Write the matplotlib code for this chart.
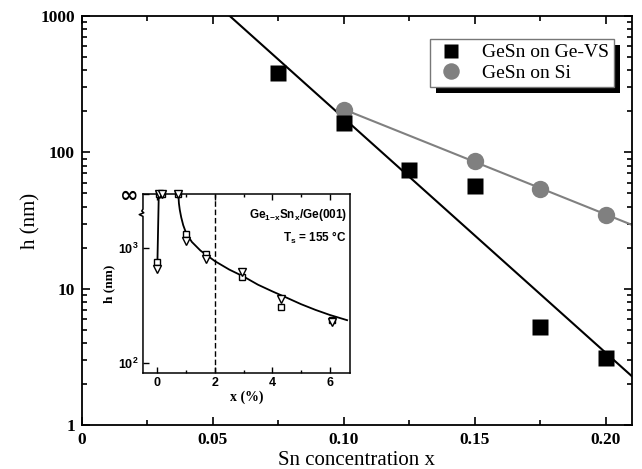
import matplotlib
matplotlib.use("Agg")
import matplotlib.pyplot as plt
import numpy as np
from matplotlib.patches import Rectangle
from matplotlib.transforms import IdentityTransform
from matplotlib.ticker import FixedLocator, LogLocator, NullFormatter, MultipleLocator, NullLocator

# main panel: critical thickness h vs Sn content x
x_vs = [0.075, 0.10, 0.125, 0.15, 0.175, 0.20]
h_vs = [380, 165, 74, 57, 5.2, 3.1]
x_si = [0.10, 0.15, 0.175, 0.20]
h_si = [205, 87, 54, 35]

# inset: Ge1-xSnx/Ge(001), Ts = 155 C ; "infinite" points sit on the top edge
INF = 2950
ins_x = [0.0, 0.06, 0.17, 0.73, 1.0, 1.68, 2.94, 4.29, 6.06]
ins_h_sq = [752, INF, INF, INF, 1316, 887, 556, 309, 237]
ins_h_tri = [653, INF, INF, INF, 1150, 797, 622, 358, 229]
branch_x = [0.0, 0.05]
branch_h = [700, INF]
curve_x = [0.73, 0.75, 0.78, 0.83, 0.9, 1.0, 1.2, 1.5, 2.0, 2.5, 3.0, 3.5, 4.0, 4.5, 5.0, 5.5, 6.0, 6.6]
curve_h = [INF, 2450, 2150, 1850, 1580, 1350, 1130, 950, 770, 650, 565, 480, 420, 370, 325, 290, 262, 236]

plt.rcParams["font.family"] = ["Liberation Serif", "DejaVu Serif"]
plt.rcParams["mathtext.fontset"] = "custom"
plt.rcParams["mathtext.rm"] = "Liberation Sans:bold"
plt.rcParams["mathtext.bf"] = "Liberation Sans:bold"
plt.rcParams["mathtext.it"] = "Liberation Sans:bold"

fig = plt.figure(figsize=(6.42, 4.69), dpi=100)
ax = fig.add_axes([0.1277, 0.0938, 0.8567, 0.872])

# least-squares lines through log10(h)
p_vs = np.polyfit(x_vs, np.log10(h_vs), 1)
p_si = np.polyfit(x_si, np.log10(h_si), 1)
fx_vs = np.array([0.04, 0.21])
fx_si = np.array([0.10, 0.21])
ax.plot(fx_vs, 10 ** np.polyval(p_vs, fx_vs), color="black", lw=1.5, zorder=2)
ax.plot(fx_si, 10 ** np.polyval(p_si, fx_si), color="#808080", lw=1.5, zorder=2)

ax.plot(x_si, h_si, "o", color="#808080", ms=12.5, mec="none", zorder=3, label="GeSn on Si")
ax.plot(x_vs, h_vs, "s", color="black", ms=11, mec="none", zorder=4, label="GeSn on Ge-VS")

ax.set_yscale("log")
ax.set_xlim(0, 0.21)
ax.set_ylim(1, 1000)
ax.xaxis.set_major_locator(FixedLocator([0, 0.05, 0.10, 0.15, 0.20]))
ax.xaxis.set_minor_locator(MultipleLocator(0.025))
ax.set_xticklabels(["0", "0.05", "0.10", "0.15", "0.20"])
ax.yaxis.set_major_locator(FixedLocator([1, 10, 100, 1000]))
ax.set_yticklabels(["1", "10", "100", "1000"])
ax.yaxis.set_minor_locator(LogLocator(base=10, subs=np.arange(2, 10)))
ax.yaxis.set_minor_formatter(NullFormatter())
ax.tick_params(which="both", direction="in", top=True, right=True, width=1.2)
ax.tick_params(which="major", length=6, labelsize=12.5, pad=5)
ax.tick_params(which="minor", length=3.5)
for lab in ax.get_xticklabels() + ax.get_yticklabels():
    lab.set_fontweight("bold")
for sp in ax.spines.values():
    sp.set_linewidth(1.3)
ax.set_xlabel("Sn concentration x", fontsize=15, labelpad=2)
ax.set_ylabel("h (nm)", fontsize=15, labelpad=0)

handles, labels = ax.get_legend_handles_labels()
leg = ax.legend(handles[::-1], labels[::-1], loc="upper left", bbox_to_anchor=(0.633, 0.944),
                borderaxespad=0, fontsize=14, frameon=True, fancybox=False, framealpha=1,
                borderpad=0.25, labelspacing=0.15, handletextpad=0.8, handlelength=1.6,
                markerscale=0.95)
leg.get_frame().set_edgecolor("#777777")
leg.get_frame().set_facecolor("white")
leg.get_frame().set_linewidth(1.0)
leg.set_zorder(6)

# inset
axi = fig.add_axes([0.2227, 0.2047, 0.3224, 0.3817])
axi.plot(branch_x, branch_h, color="black", lw=1.3)
axi.plot(curve_x, curve_h, color="black", lw=1.3)
axi.axvline(2.0, color="black", lw=1.0, ls=(0, (4, 2)))
axi.plot(ins_x, ins_h_sq, "s", mfc="white", mec="black", ms=5, mew=1.0, clip_on=False, zorder=4)
axi.plot(ins_x, ins_h_tri, "v", mfc="white", mec="black", ms=6, mew=1.0, clip_on=False, zorder=4)
axi.set_yscale("log")
axi.set_xlim(-0.5, 6.7)
axi.set_ylim(82, INF)
axi.yaxis.set_major_locator(FixedLocator([100, 1000, INF]))
axi.set_yticklabels([r"$10^{2}$", r"$10^{3}$", "\u221e"])
axi.yaxis.set_minor_locator(NullLocator())
axi.xaxis.set_major_locator(MultipleLocator(2))
axi.xaxis.set_minor_locator(MultipleLocator(1))
axi.tick_params(which="both", direction="in", top=True, right=False, width=1.0)
axi.tick_params(which="major", length=4, labelsize=9, pad=3)
axi.tick_params(which="minor", length=2)
for lab in axi.get_xticklabels() + axi.get_yticklabels():
    lab.set_fontfamily("Liberation Sans")
    lab.set_fontweight("bold")
axi.get_yticklabels()[2].set_fontsize(16)
axi.get_yticklabels()[2].set_fontfamily("DejaVu Sans")
for sp in axi.spines.values():
    sp.set_linewidth(1.1)
axi.spines["left"].set_visible(False)
# left spine with a small break mark
axi.plot([0, 0, -0.018, 0.004, -0.006, 0, 0], [0, 0.875, 0.885, 0.895, 0.905, 0.915, 1.0],
         transform=axi.transAxes, color="black", lw=1.1, clip_on=False)
axi.set_xlabel("x (%)", fontsize=10, fontweight="bold", labelpad=1)
axi.set_ylabel("h (nm)", fontsize=9.5, fontweight="bold", labelpad=2)
axi.text(0.985, 0.93, r"Ge$_{1\mathrm{-x}}$Sn$_\mathrm{x}$/Ge(001)", transform=axi.transAxes,
         ha="right", va="top", fontsize=8.5, family="Liberation Sans", fontweight="bold")
axi.text(0.985, 0.8, r"T$_\mathrm{s}$ = 155 °C", transform=axi.transAxes,
         ha="right", va="top", fontsize=8.5, family="Liberation Sans", fontweight="bold")

# black drop shadow behind the legend
fig.canvas.draw()
bb = leg.get_window_extent()
shadow = Rectangle((bb.x0 + 6, bb.y0 - 6), bb.width, bb.height, transform=IdentityTransform(),
                   facecolor="black", edgecolor="none", zorder=5.5, clip_on=False)
ax.add_artist(shadow)

fig.savefig("out.png", dpi=100)
